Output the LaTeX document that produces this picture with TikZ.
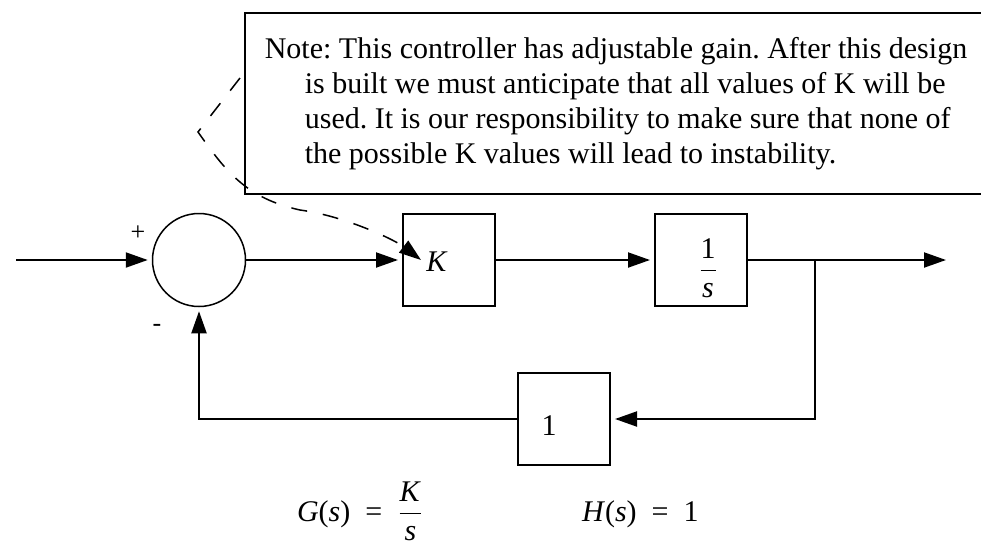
\documentclass[tikz,border=0pt]{standalone}
\usepackage{fontspec}
\setmainfont{Liberation Serif}
\usetikzlibrary{arrows.meta,positioning}

\begin{document}
\frenchspacing
\begin{tikzpicture}[x=0.5pt,y=-0.5pt,
	font=\fontsize{15}{17.5}\selectfont,
	block/.style={draw,line width=1pt,minimum width=46pt,minimum height=46pt,inner sep=0pt},
	sig/.style={line width=1pt,-{Triangle[length=11pt,width=7.5pt]},shorten >=2pt}]

\useasboundingbox (0,0) rectangle (981,547);

%grid help
% \draw[gray, very thin] (0,0) grid[step=50] (981,547);

%Note box (right side runs off the page)
\node[draw,line width=1pt,minimum width=371pt,minimum height=90.5pt,anchor=north west,
	align=left] (note) at (244,12)
	{Note: This controller has adjustable gain. After this design\\
	\hspace*{20pt}is built we must anticipate that all values of K will be\\
	\hspace*{20pt}used. It is our responsibility to make sure that none of\\
	\hspace*{20pt}the possible K values will lead to instability.};

%Summing junction
\node[circle,draw,line width=0.75pt,minimum size=46.5pt,inner sep=0pt] (sum) at (199,260) {};
\node[font=\fontsize{13}{16}\selectfont] (plus) at (138,233) {+};
\node[font=\fontsize{13}{16}\selectfont] (minus) at (157,328) {-};

%Forward blocks
\node[block,label={[xshift=-6pt,yshift=-1pt]center:\textit{K}}] (gain) at (449,260) {};
\node[block,label={[xshift=3.5pt,yshift=-4pt]center:$\displaystyle\frac{\mbox{1}}{\mbox{\textit{s}}}$}] (integ) at (701,260) {};

%Feedback block
\node[block,label={[xshift=-7.5pt,yshift=-3.5pt]center:1}] (fb) at (564,419) {};

%Input, output and take-off point
\coordinate (in) at (16,260);
\coordinate (out) at (950,260);
\coordinate (branch) at (815,260);

%Signal lines
\draw[sig] (in) -- (sum);
\draw[sig] (sum) -- (gain);
\draw[sig] (gain) -- (integ);
\draw[sig] (integ) -- (out);
\draw[sig] (branch) |- (fb);
\draw[sig] (fb) -| (sum);

%Callout from the note to the gain
\coordinate (callout) at (240,78);
\draw[line width=0.75pt,dash pattern=on 8pt off 8pt,-{Triangle[length=11pt,width=7.5pt]}]
	(callout) -- (198,132) .. controls (225,170) and (245,198) .. (300,210)
	.. controls (345,216) and (395,240) .. ([xshift=9.5pt]gain.west);

%Transfer functions
\node[anchor=base west] (eqG) at (290,521)
	{\textit{G}(\textit{s})\ \ =\ \ $\displaystyle\frac{\mbox{\textit{K}}}{\mbox{\textit{s}}}$};
\node[anchor=base west] (eqH) at (575,521) {\textit{H}(\textit{s})\ \ =\ \ 1};

\end{tikzpicture}
\end{document}
